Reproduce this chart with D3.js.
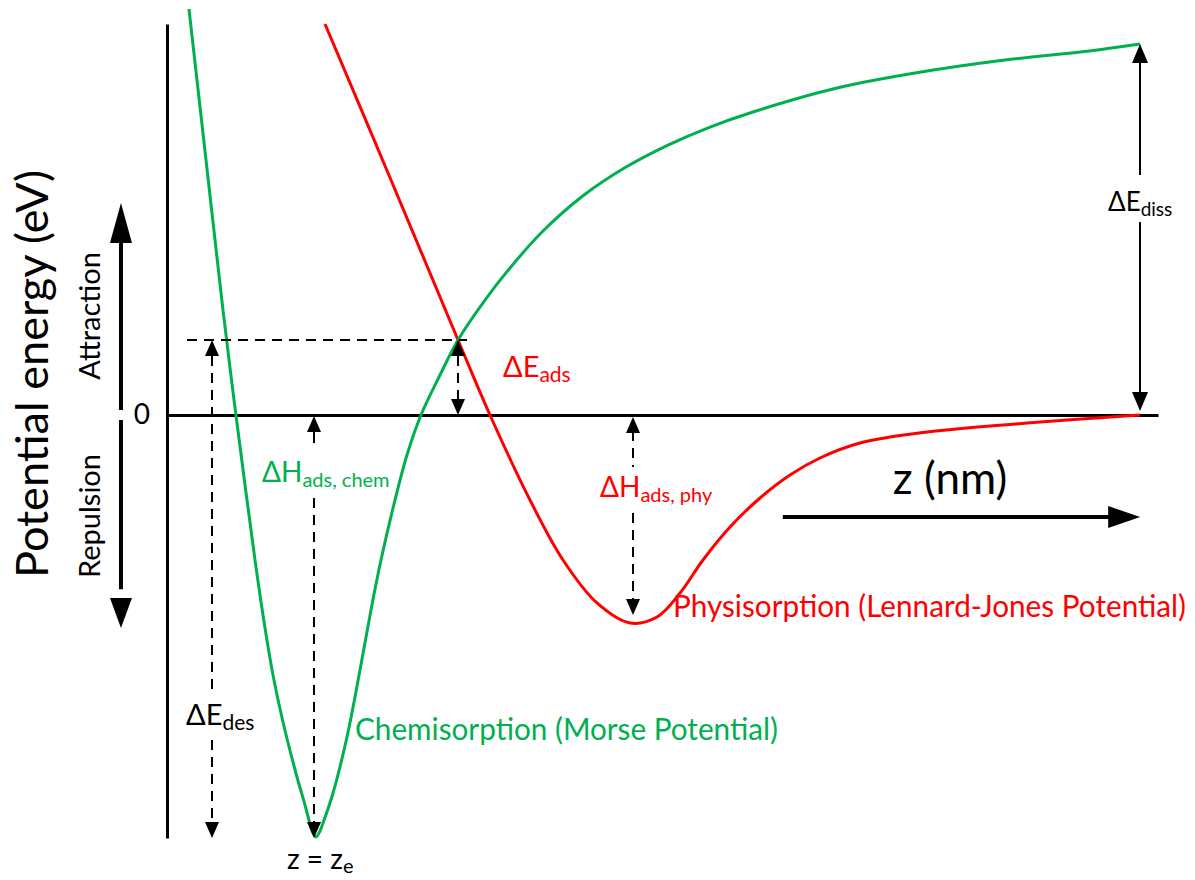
<!DOCTYPE html>
<html>
<head>
<meta charset="utf-8">
<script src="https://cdn.jsdelivr.net/npm/d3@7"></script>
<style>
  html, body { margin: 0; padding: 0; background: #fff; }
  svg { display: block; }
  text { font-family: Lato, "Open Sans", "Liberation Sans", sans-serif; }
</style>
</head>
<body>
<svg id="chart" width="1195" height="880"></svg>
<script>
// ---- data (z in nm, energy in eV) ----
const chemZ = [0.0444,0.0788,0.1131,0.1354,0.1576,0.1778,0.1939,0.2141,0.2343,0.2626,0.2788,0.2889,0.2949,0.3010,0.3071,0.3152,0.3354,0.3636,0.3899,0.4121,0.4323,0.4606,0.4848,0.5131,0.5515,0.5879,0.6424,0.6929,0.7576,0.8424,0.9273,1.0121,1.0970,1.1838,1.3535,1.5232,1.6929,1.8626,1.9657];
const chemE = [4.799,3.014,1.241,0.177,-0.827,-1.714,-2.364,-3.073,-3.629,-4.279,-4.610,-4.835,-4.941,-4.988,-4.941,-4.823,-4.468,-3.806,-3.014,-2.305,-1.714,-1.005,-0.473,0,0.473,0.887,1.359,1.738,2.163,2.600,2.931,3.191,3.404,3.582,3.865,4.054,4.196,4.303,4.385];
const phyZ = [0.3192,0.4525,0.5879,0.6525,0.7333,0.8000,0.8687,0.9354,0.9899,1.0364,1.0828,1.1374,1.1980,1.2586,1.3192,1.4000,1.5354,1.7374,1.9657];
const phyE = [4.622,2.778,0.887,0,-1.005,-1.714,-2.222,-2.459,-2.388,-2.104,-1.714,-1.324,-0.981,-0.709,-0.508,-0.331,-0.201,-0.095,0];
const yTickValues = [0];
const yTickLabels = ["0"];
// annotation values
const eAds = 0.887;          // crossing level
const zDes = 0.0909;         // ΔE_des arrow position
const zE = 0.299;            // z = z_e
const zCross = 0.5879;       // ΔE_ads arrow position
const zPhy = 0.9414;         // ΔH_ads,phy arrow position
const zDiss = 1.9657;        // ΔE_diss arrow position
const eChemMin = -5.0;
const ePhyMin = -2.364;
const eDiss = 4.385;

const GREEN = "#00B050", RED = "#FF0000", BLACK = "#000";

const svg = d3.select("#chart");
const x = d3.scaleLinear().domain([0, 2.002]).range([167, 1158]);
const y = d3.scaleLinear().domain([-5, 4.622]).range([838, 24]);

// axes
const yAxis = svg.append("g").attr("transform", `translate(${x(0)},0)`)
  .call(d3.axisLeft(y).tickValues(yTickValues).tickFormat((d,i)=>yTickLabels[i]).tickSize(0).tickSizeOuter(0).tickPadding(17));
yAxis.select(".domain").attr("stroke", BLACK).attr("stroke-width", 3);
yAxis.selectAll("text").attr("font-size", 28).attr("font-family", "Lato, sans-serif").attr("fill", BLACK);

const xAxis = svg.append("g").attr("transform", `translate(0,${y(0)})`)
  .call(d3.axisBottom(x).tickValues([]).tickSizeOuter(0));
xAxis.select(".domain").attr("stroke", BLACK).attr("stroke-width", 3);

// curves
const line = d3.line().x(d => x(d[0])).y(d => y(d[1])).curve(d3.curveCatmullRom.alpha(0.5));
const chem = chemZ.map((z,i)=>[z, chemE[i]]);
const phy = phyZ.map((z,i)=>[z, phyE[i]]);

svg.append("path").datum(phy).attr("d", line).attr("fill","none").attr("stroke",RED).attr("stroke-width",3);
svg.append("path").datum(chem).attr("d", line).attr("fill","none").attr("stroke",GREEN).attr("stroke-width",3);

// helpers
function head(px, py, dir, len, hw) {
  let pts;
  if (dir === "up") pts = [[px,py],[px-hw,py+len],[px+hw,py+len]];
  else if (dir === "down") pts = [[px,py],[px-hw,py-len],[px+hw,py-len]];
  else pts = [[px,py],[px-len,py-hw],[px-len,py+hw]];
  svg.append("path").attr("d", "M" + pts.map(p=>p.join(",")).join("L") + "Z").attr("fill", BLACK);
}
function seg(x1,y1,x2,y2,dashed,w) {
  svg.append("line").attr("x1",x1).attr("y1",y1).attr("x2",x2).attr("y2",y2)
    .attr("stroke",BLACK).attr("stroke-width",w||2)
    .attr("stroke-dasharray", dashed ? "10,7" : null);
}
const HL = 16, HW = 7;

// horizontal dashed line at adsorption crossing level
seg(x(0.0404), y(eAds), x(0.606), y(eAds), true, 2);

// ΔE_des arrow
{
  const px = x(zDes);
  head(px, y(eAds), "up", HL, HW);
  seg(px, y(eAds)+HL, px, y(-3.286), true);
  seg(px, y(-3.842), px, y(eChemMin)-HL, true);
  head(px, y(eChemMin), "down", HL, HW);
}
// ΔH_ads,chem arrow
{
  const px = x(zE) - 1;
  head(px, y(0)+1, "up", HL, HW);
  seg(px, y(0)+HL, px, y(-0.331), false);
  seg(px, y(-0.981), px, y(eChemMin)-HL, true);
  head(px, y(eChemMin), "down", HL, HW);
}
// ΔE_ads arrow
{
  const px = x(zCross);
  head(px, y(eAds), "up", HL, HW);
  seg(px, y(eAds)+HL, px, y(0)-HL, true);
  head(px, y(0), "down", HL, HW);
}
// ΔH_ads,phy arrow
{
  const px = x(zPhy);
  head(px, y(0)+2, "up", HL, HW);
  seg(px, y(0)+HL, px, y(-0.615), true);
  seg(px, y(-1.158), px, y(ePhyMin)-HL, true);
  head(px, y(ePhyMin), "down", HL, HW);
}
// ΔE_diss arrow (solid)
{
  const px = x(zDiss);
  head(px, y(eDiss), "up", 19, 8);
  seg(px, y(eDiss)+18, px, y(2.837), false, 2);
  seg(px, y(2.281), px, y(0)-20, false, 2);
  head(px, y(0)-4, "down", 19, 8);
}

// left big attraction / repulsion arrows
{
  const px = x(-0.093);
  seg(px, y(2.06), px, y(0.06), false, 4);
  head(px, y(2.506), "up", 40, 11);
  seg(px, y(-0.06), px, y(-2.06), false, 4);
  head(px, y(-2.518), "down", 30, 11);
}
// z arrow
{
  const yy = y(-1.206);
  seg(x(1.244), yy, x(1.91), yy, false, 4);
  head(x(1.966), yy, "right", 32, 11);
}

// texts
function label(tx, ty, main, sub, color, size, subSize, dy) {
  const t = svg.append("text").attr("x", tx).attr("y", ty).attr("fill", color)
    .attr("font-size", size);
  t.append("tspan").text(main);
  if (sub) t.append("tspan").attr("font-size", subSize).attr("dy", dy == null ? 5 : dy).text(sub);
  return t;
}
label(x(0.6788), y(0.449), "ΔE", "ads", RED, 29, 21);
label(262, y(-0.792), "ΔH", "ads, chem", GREEN, 28, 20);
label(600, y(-0.969), "ΔH", "ads, phy", RED, 28, 20);
label(186, y(-3.664), "ΔE", "des", BLACK, 29, 21);
label(1108, y(2.411), "ΔE", "diss", BLACK, 26, 19);
label(287, 869, "z = z", "e", BLACK, 28, 20, 4);

svg.append("text").attr("x", 355).attr("y", 740).attr("fill", GREEN).attr("font-size", 30)
  .attr("textLength", 423).attr("lengthAdjust", "spacingAndGlyphs")
  .text("Chemisorption (Morse Potential)");
svg.append("text").attr("x", 673).attr("y", 617).attr("fill", RED).attr("font-size", 30)
  .attr("textLength", 513).attr("lengthAdjust", "spacingAndGlyphs")
  .text("Physisorption (Lennard-Jones Potential)");

svg.append("text").attr("x", 950).attr("y", 494).attr("text-anchor","middle").attr("font-size", 44)
  .attr("fill", BLACK).text("z (nm)");

svg.append("text").attr("transform", "translate(48,374) rotate(-90)").attr("text-anchor","middle")
  .attr("font-size", 44).attr("fill", BLACK)
  .attr("textLength", 408).attr("lengthAdjust", "spacingAndGlyphs")
  .text("Potential energy (eV)");
svg.append("text").attr("transform", "translate(100,316) rotate(-90)").attr("text-anchor","middle")
  .attr("font-size", 29).attr("fill", BLACK).text("Attraction");
svg.append("text").attr("transform", "translate(100,516) rotate(-90)").attr("text-anchor","middle")
  .attr("font-size", 29).attr("fill", BLACK).text("Repulsion");
</script>
</body>
</html>
